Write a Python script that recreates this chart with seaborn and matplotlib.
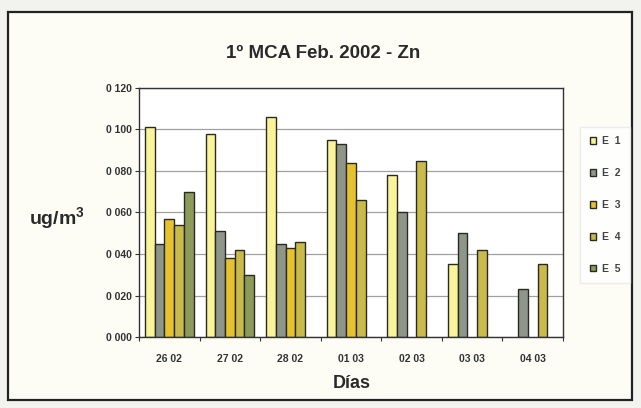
import numpy as np
import pandas as pd
import matplotlib
matplotlib.use('Agg')
import matplotlib.pyplot as plt
from matplotlib.patches import Rectangle
import seaborn as sns

# data (NaN = no bar)
days = ['26 02', '27 02', '28 02', '01 03', '02 03', '03 03', '04 03']
e1 = [0.101, 0.098, 0.106, 0.095, 0.078, 0.035, np.nan]
e2 = [0.045, 0.051, 0.045, 0.093, 0.060, 0.050, 0.023]
e3 = [0.057, 0.038, 0.043, 0.084, np.nan, np.nan, np.nan]
e4 = [0.054, 0.042, 0.046, 0.066, 0.085, 0.042, 0.035]
e5 = [0.070, 0.030, np.nan, np.nan, np.nan, np.nan, np.nan]
stations = ['E 1', 'E 2', 'E 3', 'E 4', 'E 5']
yticks = [0.0, 0.02, 0.04, 0.06, 0.08, 0.10, 0.12]
ytick_labels = ['0 000', '0 020', '0 040', '0 060', '0 080', '0 100', '0 120']

colors = ['#F9F39A', '#8E968A', '#E6C22E', '#C9BA4C', '#8C9A5A']

rows = []
for name, vals in zip(stations, [e1, e2, e3, e4, e5]):
    for d, v in zip(days, vals):
        rows.append({'Dia': d, 'Estacion': name, 'valor': v})
df = pd.DataFrame(rows)

sns.set_style('white')
plt.rcParams['font.family'] = ['Liberation Sans', 'DejaVu Sans']
plt.rcParams['mathtext.default'] = 'regular'

fig = plt.figure(figsize=(6.41, 4.08), dpi=100, facecolor='#F2F3EE')
# outer chart frame, kept behind the axes
fig.patches.append(Rectangle((8 / 641, 1 - 400 / 408), 624 / 641, 388 / 408,
                             transform=fig.transFigure, facecolor='#FDFDF6',
                             edgecolor='#222222', linewidth=1.6, zorder=-5))

ax = fig.add_axes([139 / 641, 1 - 337 / 408, 424 / 641, 249 / 408])
ax.set_zorder(2)
ax.set_facecolor('white')

sns.barplot(data=df, x='Dia', y='valor', hue='Estacion', order=days,
            hue_order=stations, palette=colors, width=0.8, ax=ax,
            edgecolor='#2a2a22', linewidth=1.0, saturation=1)

ax.set_ylim(0, 0.12)
ax.set_yticks(yticks)
ax.set_yticklabels(ytick_labels, fontsize=7.5, fontweight='bold', color='#333333')
ax.set_xlim(-0.5, len(days) - 0.5)
ax.set_xticks(range(len(days)))
ax.set_xticklabels(days, fontsize=7.5, fontweight='bold', color='#333333')
ax.tick_params(axis='x', length=0, pad=12)
ax.tick_params(axis='y', length=3, width=0.8, color='#333333', pad=2, left=True)
ax.set_xticks(np.arange(-0.5, len(days), 1), minor=True)
ax.tick_params(axis='x', which='minor', length=3, width=0.8, color='#333333', bottom=True)
ax.yaxis.grid(True, color='#a0a0a0', linewidth=0.9)
ax.set_axisbelow(True)
for s in ax.spines.values():
    s.set_visible(True)
    s.set_color('#333333')
    s.set_linewidth(1.0)

ax.set_xlabel('')
ax.set_ylabel('')
fig.text(352 / 641, 1 - 383 / 408, 'Días', ha='center', va='center',
         fontsize=13, fontweight='bold', color='#2a2a2a')
fig.text(57 / 641, 1 - 218 / 408, 'ug/m$^3$', ha='center', va='center',
         fontsize=14, fontweight='bold', color='#2a2a2a')
fig.text(323 / 641, 1 - 54 / 408, '1º MCA Feb. 2002 - Zn', ha='center', va='center',
         fontsize=13.5, fontweight='bold', color='#2a2a2a')

handles, labels = ax.get_legend_handles_labels()
ax.legend(handles, ['E  1', 'E  2', 'E  3', 'E  4', 'E  5'], loc='center left',
          bbox_to_anchor=(575 / 641, 1 - 205 / 408),
          bbox_transform=fig.transFigure, frameon=True, fancybox=False,
          edgecolor='#e8e8e8', fontsize=7.5, handlelength=0.6, handleheight=0.6,
          handletextpad=0.6, labelspacing=2.1, borderpad=0.9)
for t in ax.get_legend().get_texts():
    t.set_color('#444444')
    t.set_fontweight('bold')

fig.savefig('out.png', dpi=100, facecolor=fig.get_facecolor())
